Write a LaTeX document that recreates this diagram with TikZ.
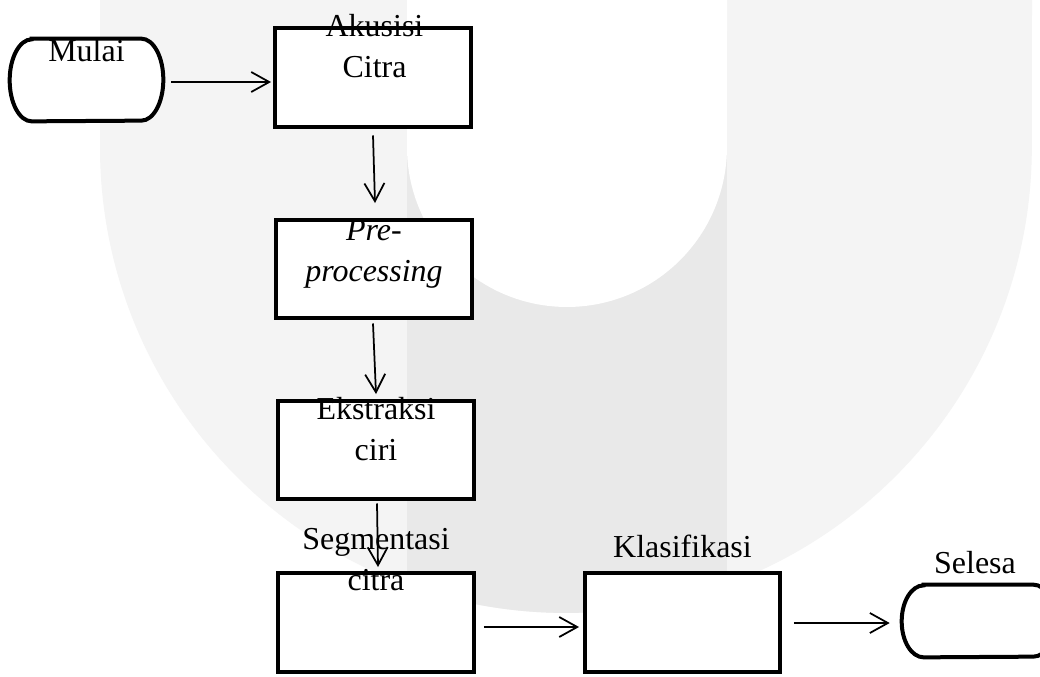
\documentclass[tikz,border=0pt]{standalone}
\usepackage{fontspec}
\setmainfont{Liberation Serif}
\usetikzlibrary{calc,arrows.meta}
\definecolor{wmlight}{HTML}{F4F4F4}
\definecolor{wmdark}{HTML}{E9E9E9}
\tikzset{
  procbox/.style={draw, line width=0.08cm, fill=white, minimum width=3.92cm, minimum height=1.98cm, inner sep=0pt},
  termbox/.style={minimum width=3.06cm, inner sep=0pt},
  termline/.style={draw, line width=0.08cm, fill=white},
  boxtext/.style={anchor=north, align=center, inner sep=0pt, font=\fontsize{18.2}{23.3}\selectfont},
  flow/.style={line width=0.035cm, -{Straight Barb[length=0.36cm,width=0.4cm]}}
}

\begin{document}
\begin{tikzpicture}[x=0.02cm, y=-0.02cm]
\useasboundingbox (0,0) rectangle (1040,676);
\fill[white] (0,0) rectangle (1040,676);
% watermark
\fill[wmlight] (100,0) -- (100,147) arc[start angle=180, end angle=360, radius=9.32cm] -- (1032,0) -- cycle;
\begin{scope}
\clip (100,0) -- (100,147) arc[start angle=180, end angle=360, radius=9.32cm] -- (1032,0) -- cycle;
\fill[wmdark] (407,0) rectangle (727,676);
\end{scope}
\fill[white] (407,0) -- (407,147) arc[start angle=180, end angle=360, radius=3.2cm] -- (727,0) -- cycle;

\node[termbox, minimum height=1.64cm] (mulai) at (86.5,80) {};
\draw[termline] ($(mulai.north west)+(22,0)$) -- ($(mulai.north east)+(-22,0)$) arc[start angle=90, end angle=-90, x radius=0.44cm, y radius=0.82cm] -- ($(mulai.south west)+(22,0)$) arc[start angle=270, end angle=90, x radius=0.44cm, y radius=0.82cm] -- cycle;
\node[boxtext] (mulaiT) at (mulai.north) {Mulai};

\node[procbox] (akusisi) at (373,77.5) {};
\node[boxtext] (akusisiT) at ([xshift=0.03cm, yshift=0.24cm]akusisi.north) {Akusisi\\Citra};

\node[procbox] (pre) at (374,269) {};
\node[boxtext] (preT) at ([yshift=-0.03cm]pre.north) {\textit{Pre-}\\\textit{processing}};

\node[procbox] (ekstraksi) at (376,450) {};
\node[boxtext] (ekstraksiT) at ([yshift=0.03cm]ekstraksi.north) {Ekstraksi\\ciri};

\node[procbox] (segmentasi) at (376,622.5) {};
\node[boxtext] (segmentasiT) at ([yshift=0.86cm]segmentasi.north) {Segmentasi\\citra};

\node[procbox] (klasifikasi) at (682.5,622.5) {};
\node[boxtext] (klasifikasiT) at ([yshift=0.72cm]klasifikasi.north) {Klasifikasi};

\node[termbox, minimum height=1.44cm] (selesa) at (978.5,621) {};
\draw[termline] ($(selesa.north west)+(22,0)$) -- ($(selesa.north east)+(-22,0)$) arc[start angle=90, end angle=-90, x radius=0.44cm, y radius=0.72cm] -- ($(selesa.south west)+(22,0)$) arc[start angle=270, end angle=90, x radius=0.44cm, y radius=0.72cm] -- cycle;
\node[boxtext] (selesaT) at ([xshift=-0.07cm, yshift=0.68cm]selesa.north) {Selesa};

\draw[flow] ($(mulai.east)+(8,2)$) -- ($(mulai.east -| akusisi.west)+(-2,2)$);
\draw[flow] ($(akusisi.south)+(0,6.5)$) -- ($(pre.north)+(1,-14.5)$);
\draw[flow] ($(pre.south)+(-1,3)$) -- ($(ekstraksi.north)+(0,-4.5)$);
\draw[flow] ($(ekstraksi.south)+(1,2)$) -- ($(segmentasi.north)+(2,-4)$);
\draw[flow] ($(segmentasi.east)+(8,4.5)$) -- ($(segmentasi.east -| klasifikasi.west)+(-3.5,4.5)$);
\draw[flow] ($(klasifikasi.east)+(11.5,0.5)$) -- ($(klasifikasi.east -| selesa.west)+(-12,0.5)$);
\end{tikzpicture}
\end{document}
